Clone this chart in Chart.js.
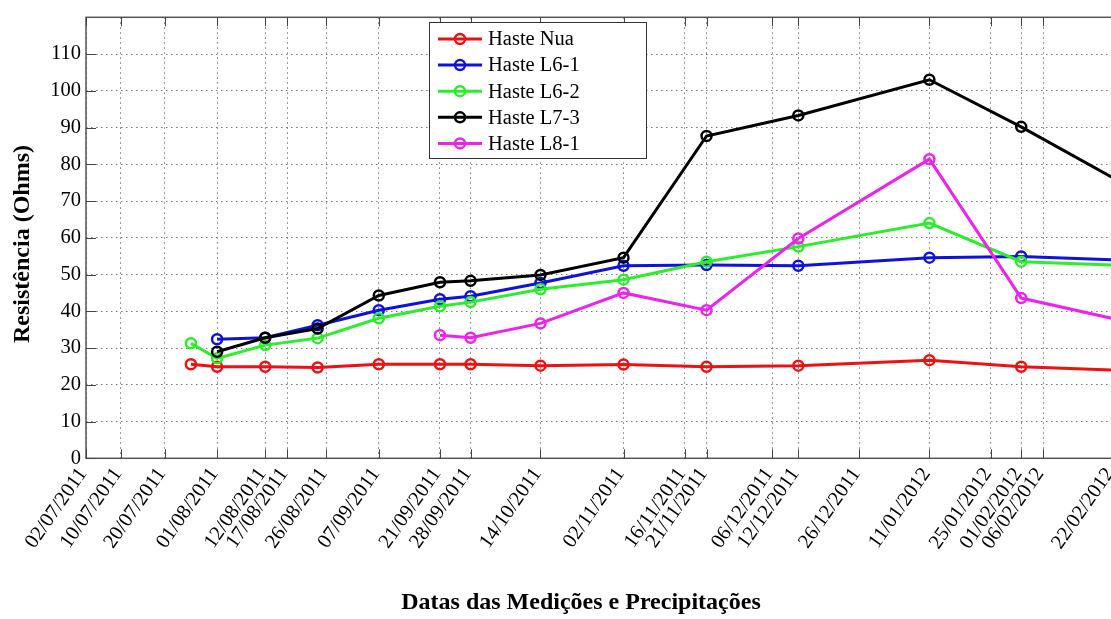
<!DOCTYPE html>
<html>
<head>
<meta charset="utf-8">
<title>Resistência das hastes</title>
<script src="https://cdn.jsdelivr.net/npm/chart.js@4.4.1/dist/chart.umd.min.js"></script>
<style>
  html, body { margin: 0; padding: 0; background: #fff; overflow: hidden; width: 1111px; height: 619px; }
  #wrap { position: relative; width: 1240px; height: 619px; }
  canvas { display: block; }
</style>
</head>
<body>
<div id="wrap"><canvas id="chart" width="1240" height="619"></canvas></div>
<script>
// Dates shown on the horizontal axis (measurements and rainfall)
const tickLabels = [
  '02/07/2011', '10/07/2011', '20/07/2011', '01/08/2011', '12/08/2011', '17/08/2011',
  '26/08/2011', '07/09/2011', '21/09/2011', '28/09/2011', '14/10/2011', '02/11/2011',
  '16/11/2011', '21/11/2011', '06/12/2011', '12/12/2011', '26/12/2011', '11/01/2012',
  '25/01/2012', '01/02/2012', '06/02/2012', '22/02/2012'
];

// Measurement dates
const measureDates = [
  '26/07/2011', '01/08/2011', '12/08/2011', '24/08/2011', '07/09/2011', '21/09/2011',
  '28/09/2011', '14/10/2011', '02/11/2011', '21/11/2011', '12/12/2011', '11/01/2012',
  '01/02/2012', '07/03/2012'
];

// Resistance (Ohms) per rod
const hasteNua = [25.6, 24.9, 24.9, 24.7, 25.6, 25.6, 25.6, 25.2, 25.5, 24.9, 25.2, 26.7, 24.9, 23.4];
const hasteL61 = [null, 32.4, 32.8, 36.2, 40.3, 43.3, 44.1, 47.7, 52.4, 52.6, 52.4, 54.6, 54.9, 53.4];
const hasteL62 = [31.3, 27.2, 30.8, 32.7, 38.1, 41.4, 42.5, 46.0, 48.6, 53.5, 57.6, 64.0, 53.5, 52.0];
const hasteL73 = [null, 29.0, 32.8, 35.3, 44.3, 47.9, 48.3, 49.9, 54.6, 87.7, 93.3, 103.0, 90.2, 67.1];
const hasteL81 = [null, null, null, null, null, 33.5, 32.8, 36.7, 45.0, 40.3, 59.8, 81.4, 43.6, 34.3];

const seriesNames = ['Haste Nua', 'Haste L6-1', 'Haste L6-2', 'Haste L7-3', 'Haste L8-1'];
const seriesColors = ['#ee1111', '#1111dd', '#2aee2a', '#000000', '#ee22ee'];
const seriesValues = [hasteNua, hasteL61, hasteL62, hasteL73, hasteL81];

const yTicks = [0, 10, 20, 30, 40, 50, 60, 70, 80, 90, 100, 110];

// Day count from the first axis date
const DAY = 86400000;
const ORIGIN = Date.UTC(2011, 6, 2);
function toDay(s) {
  const [d, m, y] = s.split('/').map(Number);
  return Math.round((Date.UTC(y, m - 1, d) - ORIGIN) / DAY);
}
const tickDays = tickLabels.map(toDay);
const labelByDay = new Map(tickDays.map((v, i) => [v, tickLabels[i]]));
const measureDays = measureDates.map(toDay);

const SERIF = '"Liberation Serif", "Times New Roman", serif';

const datasets = seriesValues.map((vals, i) => ({
  label: seriesNames[i],
  data: measureDays.map((d, k) => ({ x: d, y: vals[k] })),
  borderColor: seriesColors[i],
  backgroundColor: seriesColors[i],
  pointBorderColor: seriesColors[i],
  pointBackgroundColor: 'rgba(255,255,255,0)',
  borderWidth: 3,
  pointRadius: 5,
  pointBorderWidth: 2.5,
  pointStyle: 'circle',
  tension: 0,
  order: seriesNames.length - i
}));

// Axes box, inward tick marks, legend and axis titles
const frame = {
  id: 'frame',
  beforeDatasetsDraw(chart) {
    const { ctx, chartArea: a, scales: { x, y } } = chart;
    ctx.save();
    ctx.strokeStyle = '#555';
    ctx.lineWidth = 1.5;
    ctx.strokeRect(a.left, a.top, a.right - a.left, a.bottom - a.top);
    ctx.lineWidth = 1;
    ctx.strokeStyle = '#444';
    ctx.beginPath();
    tickDays.forEach(d => {
      const px = Math.round(x.getPixelForValue(d)) + 0.5;
      ctx.moveTo(px, a.bottom); ctx.lineTo(px, a.bottom - 9);
      ctx.moveTo(px, a.top); ctx.lineTo(px, a.top + 9);
    });
    yTicks.forEach(v => {
      const py = Math.round(y.getPixelForValue(v)) + 0.5;
      ctx.moveTo(a.left, py); ctx.lineTo(a.left + 10, py);
    });
    ctx.stroke();
    ctx.restore();
  },
  afterDraw(chart) {
    const { ctx } = chart;
    ctx.save();
    // legend
    const bx = 429, by = 22, bw = 217, bh = 136;
    ctx.fillStyle = '#fff';
    ctx.fillRect(bx, by, bw, bh);
    ctx.strokeStyle = '#333';
    ctx.lineWidth = 1;
    ctx.strokeRect(bx + 0.5, by + 0.5, bw, bh);
    ctx.font = '20.5px ' + SERIF;
    ctx.textBaseline = 'middle';
    ctx.textAlign = 'left';
    seriesNames.forEach((name, i) => {
      const cy = 39 + i * 26.1;
      ctx.strokeStyle = seriesColors[i];
      ctx.lineWidth = 3;
      ctx.beginPath();
      ctx.moveTo(438, cy); ctx.lineTo(482, cy);
      ctx.stroke();
      ctx.lineWidth = 2.5;
      ctx.beginPath();
      ctx.arc(460, cy, 5, 0, Math.PI * 2);
      ctx.stroke();
      ctx.fillStyle = '#000';
      ctx.fillText(name, 488, cy + 1);
    });
    // axis titles
    ctx.fillStyle = '#000';
    ctx.font = 'bold 24px ' + SERIF;
    ctx.textAlign = 'center';
    ctx.textBaseline = 'middle';
    ctx.fillText('Datas das Medições e Precipitações', 581, 603);
    ctx.translate(23, 244);
    ctx.rotate(-Math.PI / 2);
    ctx.fillText('Resistência (Ohms)', 0, 0);
    ctx.restore();
  }
};

const PX_PER_DAY = 4.37;
const X_MAX = 255;
const LEFT = 86;
const RIGHT = LEFT + X_MAX * PX_PER_DAY;

new Chart(document.getElementById('chart'), {
  type: 'line',
  data: { datasets },
  plugins: [frame],
  options: {
    responsive: false,
    animation: false,
    events: [],
    layout: { padding: { top: 14, left: 0, right: 1240 - RIGHT, bottom: 0 } },
    plugins: { legend: { display: false }, tooltip: { enabled: false }, title: { display: false } },
    scales: {
      x: {
        type: 'linear',
        min: 0,
        max: X_MAX,
        afterBuildTicks: s => { s.ticks = tickDays.map(v => ({ value: v })); },
        afterFit: s => { s.height = 619 - 458.3; },
        ticks: {
          autoSkip: false,
          minRotation: 55,
          maxRotation: 55,
          padding: 5,
          labelOffset: -3,
          color: '#000',
          font: { family: SERIF, size: 20.5 },
          callback: v => labelByDay.get(v) ?? ''
        },
        grid: { color: '#777', lineWidth: 1, drawTicks: false },
        border: { display: false, dash: [1.5, 3.5] }
      },
      y: {
        type: 'linear',
        min: 0,
        max: 120,
        afterBuildTicks: s => { s.ticks = yTicks.concat([120]).map(v => ({ value: v })); },
        afterFit: s => { s.width = LEFT; },
        ticks: {
          padding: 5,
          color: '#000',
          font: { family: SERIF, size: 20.5 },
          callback: v => (yTicks.includes(v) ? String(v) : '')
        },
        grid: { color: '#777', lineWidth: 1, drawTicks: false },
        border: { display: false, dash: [1.5, 3.5] }
      }
    }
  }
});
</script>
</body>
</html>
